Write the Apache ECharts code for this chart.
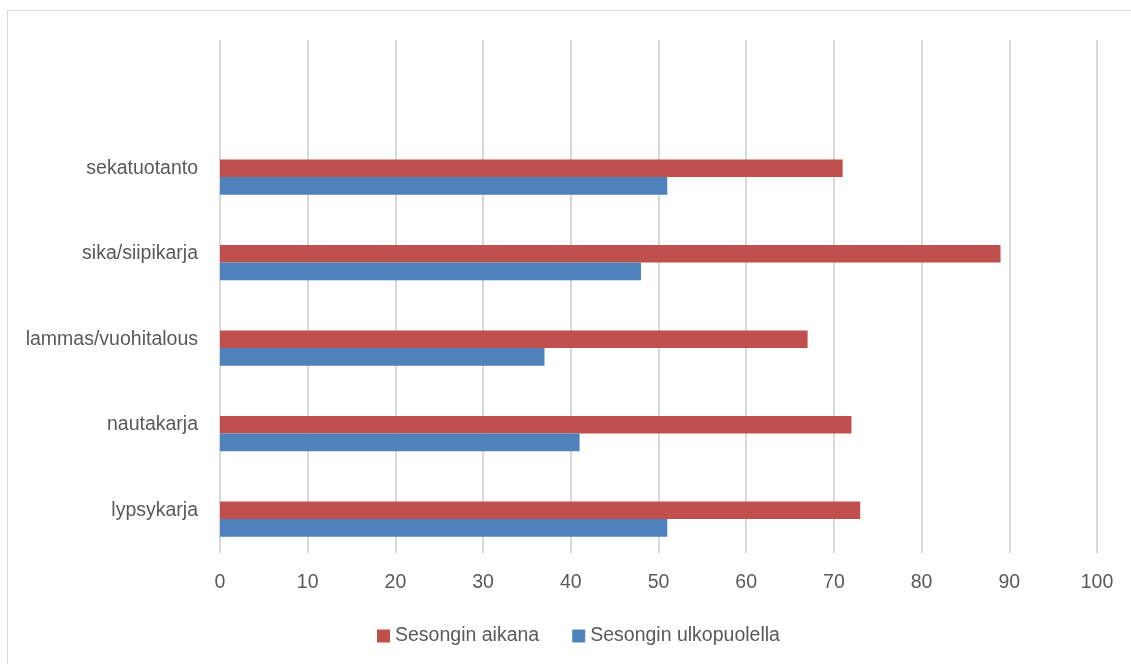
<!DOCTYPE html>
<html>
<head>
<meta charset="utf-8">
<title>Sesonki</title>
<script src="https://cdn.jsdelivr.net/npm/echarts@6/dist/echarts.min.js"></script>
<style>
    html, body { margin: 0; padding: 0; background: #fff; }
    #frame {
        position: absolute; left: 7px; top: 10px; right: 0; bottom: 0;
        border-left: 1px solid #d9d9d9; border-top: 1px solid #d9d9d9;
    }
    #main { position: absolute; left: 0; top: 0; width: 1131px; height: 664px; }
</style>
</head>
<body>
<div id="frame"></div>
<div id="main"></div>
<script>
// tuotantosuunnat, alhaalta ylös (ylin rivi jää tyhjäksi kuten alkuperäisessä)
var categories = ['lypsykarja', 'nautakarja', 'lammas/vuohitalous', 'sika/siipikarja', 'sekatuotanto', ''];
var inSeason = [73, 72, 67, 89, 71, null];
var offSeason = [51, 41, 37, 48, 51, null];
var xTicks = [0, 10, 20, 30, 40, 50, 60, 70, 80, 90, 100];

var font = '"Liberation Sans", Arial, sans-serif';
var myChart = echarts.init(document.getElementById('main'));

var option = {
    animation: false,
    textStyle: { fontFamily: font },
    grid: { left: 220, right: 34, top: 40, bottom: 111, containLabel: false, outerBoundsMode: 'none' },
    legend: {
        data: ['Sesongin aikana', 'Sesongin ulkopuolella'],
        left: 372, top: 621,
        itemWidth: 13, itemHeight: 13, itemGap: 33,
        icon: 'rect',
        textStyle: { fontFamily: font, fontSize: 19.5, color: '#595959' }
    },
    xAxis: {
        type: 'value', min: xTicks[0], max: xTicks[xTicks.length - 1], interval: 10,
        axisLine: { show: false }, axisTick: { show: false },
        axisLabel: { fontFamily: font, fontSize: 19.5, color: '#595959', margin: 20 },
        splitLine: { lineStyle: { color: '#d9d9d9', width: 2 } }
    },
    yAxis: {
        type: 'category', data: categories,
        axisLine: { show: false }, axisTick: { show: false },
        axisLabel: { fontFamily: font, fontSize: 19.5, color: '#595959', margin: 22 }
    },
    series: [
        {
            name: 'tyhjä', type: 'bar', data: [],
            barWidth: '20.7%', barGap: '0%'
        },
        {
            name: 'Sesongin aikana', type: 'bar', data: inSeason,
            barWidth: '20.7%', barGap: '0%',
            itemStyle: { color: '#c0504d' }
        },
        {
            name: 'Sesongin ulkopuolella', type: 'bar', data: offSeason,
            barWidth: '20.7%', barGap: '0%',
            itemStyle: { color: '#4f81bd' }
        }
    ]
};
myChart.setOption(option);
</script>
</body>
</html>
